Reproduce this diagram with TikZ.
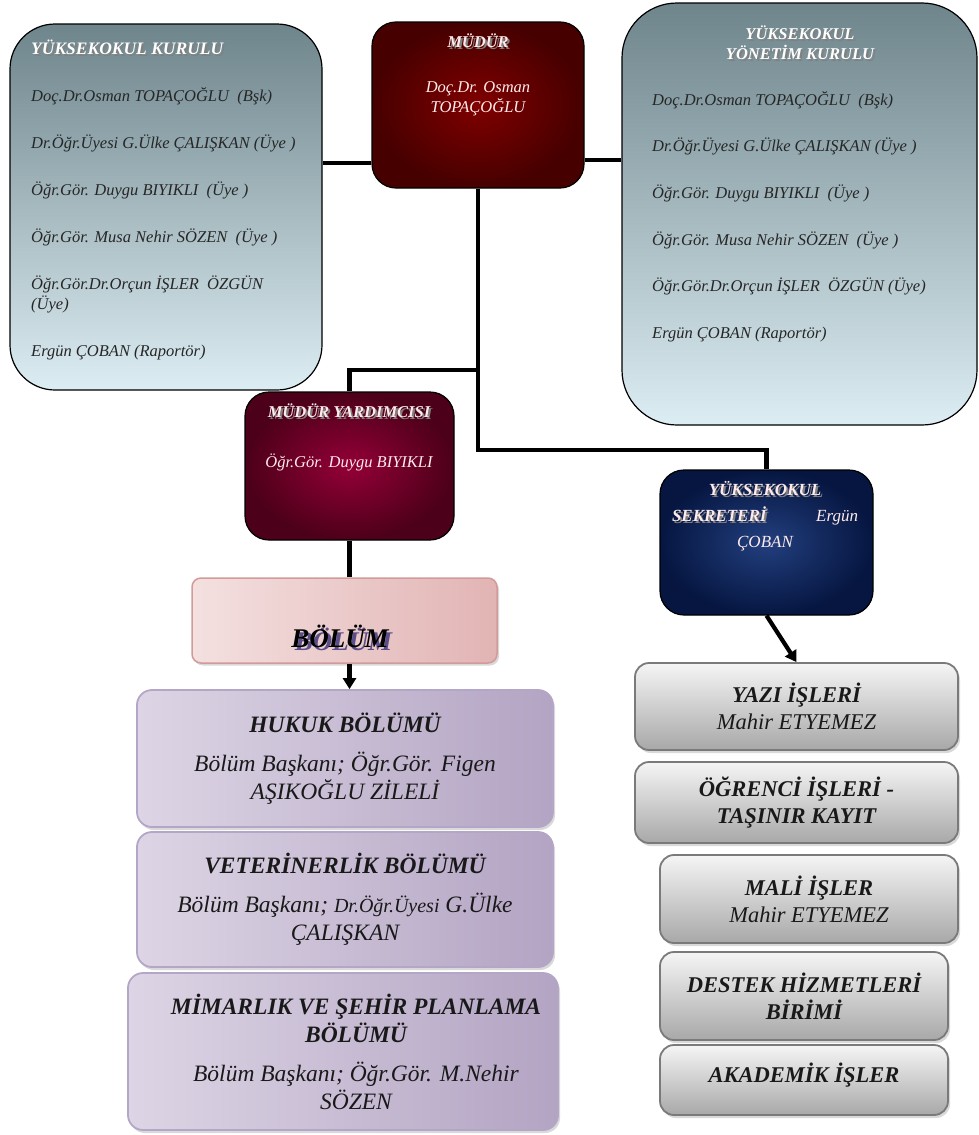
\documentclass[tikz,border=0pt]{standalone}
\usepackage{fontspec}
\setmainfont{Liberation Serif}
\usetikzlibrary{shadows,arrows.meta}

\definecolor{kurtop}{HTML}{6E858B}
\definecolor{kurbot}{HTML}{DCEDF3}
\definecolor{mudin}{HTML}{800000}
\definecolor{mudout}{HTML}{460000}
\definecolor{yrdin}{HTML}{940037}
\definecolor{yrdout}{HTML}{4C0019}
\definecolor{sekin}{HTML}{223F7E}
\definecolor{sekout}{HTML}{061641}
\definecolor{pinkA}{HTML}{F4E0E0}
\definecolor{pinkB}{HTML}{E2B4B4}
\definecolor{pinkline}{HTML}{D39A9A}
\definecolor{lavA}{HTML}{DDD5E5}
\definecolor{lavB}{HTML}{EEEAF3}
\definecolor{lavC}{HTML}{B3A4C3}
\definecolor{lavline}{HTML}{B3A6C7}
\definecolor{grayA}{HTML}{F5F5F5}
\definecolor{grayB}{HTML}{A8A8A8}
\definecolor{grayline}{HTML}{7A7A7A}
\definecolor{titleshade}{HTML}{5B4F8A}

% golgeli baslik yazisi
\newcommand{\shtext}[3][2pt]{\makebox[0pt][l]{\hspace{#1}\raisebox{-#1}{\textcolor{#2}{#3}}}#3}

\begin{document}
\begin{tikzpicture}[x=1pt,y=-1pt,
	conn/.style={line width=4.5pt},
	arrowconn/.style={line width=4.2pt,-{Triangle[length=11pt,width=13pt]}},
	kurulbox/.style={draw=black,line width=1.2pt,top color=kurtop,bottom color=kurbot,inner sep=0pt},
	darkbox/.style={draw=black,line width=1.2pt,rounded corners=24pt,inner sep=0pt},
	pinkbox/.style={draw=pinkline,line width=1.5pt,rounded corners=9pt,left color=pinkA,right color=pinkB,
		drop shadow={shadow xshift=2pt,shadow yshift=-2.5pt,opacity=0.3}},
	deptbox/.style={draw=lavline,line width=1.8pt,rounded corners=15pt,left color=lavA,middle color=lavB,right color=lavC,
		drop shadow={shadow xshift=2pt,shadow yshift=-3pt,opacity=0.3},
		font=\fontsize{23.5}{28}\selectfont\itshape,text=black!90,align=center},
	graybox/.style={draw=grayline,line width=1.8pt,rounded corners=14pt,top color=grayA,bottom color=grayB,
		drop shadow={shadow xshift=2pt,shadow yshift=-3pt,opacity=0.3},
		font=\fontsize{22.5}{27}\selectfont\itshape,text=black!90,align=center},
	membertext/.style={font=\fontsize{16.5}{20}\selectfont\itshape,text=black!85,align=left,inner sep=0pt},
	whitetext/.style={font=\fontsize{16.5}{20}\selectfont\itshape,text=white!92!red,align=center,inner sep=0pt}]
	\useasboundingbox (0,0) rectangle (978,1135);

	% ust kutular
	\node[kurulbox,rounded corners=45pt,minimum width=312pt,minimum height=366pt] (kurulu) at (166,207) {};
	\node[darkbox,inner color=mudin,outer color=mudout,minimum width=212pt,minimum height=166pt] (mudur) at (478,105) {};
	\node[kurulbox,rounded corners=55pt,minimum width=355pt,minimum height=422pt] (yonetim) at (799.5,214) {};

	\node[membertext,anchor=west] (kuruluyazi) at (31,200) {%
		{\fontsize{17.5}{20}\selectfont\bfseries\textcolor{white}{\shtext{gray}{YÜKSEKOKUL KURULU}}}\\[27pt]
		Doç.Dr.Osman TOPAÇOĞLU~ (Bşk)\\[27pt]
		Dr.Öğr.Üyesi G.Ülke ÇALIŞKAN (Üye~)\\[27pt]
		Öğr.Gör. Duygu BIYIKLI~ (Üye~)\\[27pt]
		Öğr.Gör. Musa Nehir SÖZEN~ (Üye~)\\[27pt]
		Öğr.Gör.Dr.Orçun İŞLER~ ÖZGÜN\\(Üye)\\[27pt]
		Ergün ÇOBAN (Raportör)};
	\node[whitetext] (mudurada) at (478,75) {%
		{\bfseries\shtext{gray}{MÜDÜR}}\\[25pt]
		Doç.Dr. Osman\\TOPAÇOĞLU};
	\node[whitetext,text=white] (yonetimbaslik) at (800,44) {%
		\bfseries\shtext{gray}{YÜKSEKOKUL}\\\bfseries\shtext{gray}{YÖNETİM KURULU}};
	\node[membertext,anchor=west] (yonetimyazi) at (652,216.5) {%
		Doç.Dr.Osman TOPAÇOĞLU~ (Bşk)\\[26.6pt]
		Dr.Öğr.Üyesi G.Ülke ÇALIŞKAN (Üye~)\\[26.6pt]
		Öğr.Gör. Duygu BIYIKLI~ (Üye~)\\[26.6pt]
		Öğr.Gör. Musa Nehir SÖZEN~ (Üye~)\\[26.6pt]
		Öğr.Gör.Dr.Orçun İŞLER~ ÖZGÜN (Üye)\\[26.6pt]
		Ergün ÇOBAN (Raportör)};

	% orta kutular
	\node[darkbox,inner color=yrdin,outer color=yrdout,minimum width=209pt,minimum height=148pt] (yardimci) at (349.5,466) {};
	\node[whitetext] (yardimciada) at (349,437) {%
		{\bfseries\shtext{gray}{MÜDÜR YARDIMCISI}}\\[30pt]
		Öğr.Gör. Duygu BIYIKLI};
	\node[darkbox,inner color=sekin,outer color=sekout,minimum width=213pt,minimum height=145pt] (sekreter) at (766.5,542.5) {};
	\node[whitetext,font=\fontsize{17}{26}\selectfont\itshape] (sekreterada) at (765,516) {%
		{\bfseries\shtext{gray}{YÜKSEKOKUL}}\\
		\makebox[186pt]{{\bfseries\shtext{gray}{SEKRETERİ}}\hfill Ergün}\\
		ÇOBAN};
	\node[pinkbox,minimum width=305pt,minimum height=85pt] (bolum) at (344.5,620.5) {};
	\node[font=\fontsize{27}{30}\selectfont\bfseries\itshape,inner sep=0pt] (bolumada) at (340,638) {\shtext[3.5pt]{titleshade}{BÖLÜM}};

	% bolumler
	\node[deptbox,minimum width=416pt,minimum height=137pt] (hukuk) at (345,758.5) {%
		\textbf{HUKUK BÖLÜMÜ}\\[11pt]
		Bölüm Başkanı; Öğr.Gör. Figen\\AŞIKOĞLU ZİLELİ};
	\node[deptbox,minimum width=416pt,minimum height=135pt] (veteriner) at (345,899.5) {%
		\textbf{VETERİNERLİK BÖLÜMÜ}\\[11pt]
		Bölüm Başkanı; {\fontsize{20}{28}\selectfont Dr.Öğr.Üyesi} G.Ülke\\ÇALIŞKAN};
	\node[deptbox,minimum width=430pt,minimum height=157pt] (mimarlik) at (343,1051.5) {%
		\hspace*{26pt}\textbf{MİMARLIK VE ŞEHİR PLANLAMA}\\\hspace*{26pt}\textbf{BÖLÜMÜ}\\[11pt]
		\hspace*{26pt}Bölüm Başkanı; Öğr.Gör. M.Nehir\\\hspace*{26pt}SÖZEN};

	% birimler
	\node[graybox,minimum width=323pt,minimum height=87pt] (yazi) at (796.5,706.5) {\textbf{YAZI İŞLERİ}\\Mahir ETYEMEZ};
	\node[graybox,minimum width=323pt,minimum height=81pt] (ogrenci) at (796.5,802.5) {\textbf{ÖĞRENCİ İŞLERİ -}\\\textbf{TAŞINIR KAYIT}};
	\node[graybox,minimum width=298pt,minimum height=88pt] (mali) at (809,899) {\textbf{MALİ İŞLER}\\Mahir ETYEMEZ};
	\node[graybox,minimum width=288pt,minimum height=88pt] (destek) at (804,996) {\textbf{DESTEK HİZMETLERİ}\\\textbf{BİRİMİ}};
	\node[graybox,minimum width=288pt,minimum height=70pt,text depth=14pt] (akademik) at (804,1080) {\textbf{AKADEMİK İŞLER}};

	% baglantilar
	\draw[conn] (kurulu.east |- 0,163) -- (mudur.west |- 0,163);
	\draw[conn] (mudur.east |- 0,160) -- (yonetim.west |- 0,160);
	\coordinate (ayrim) at (mudur.south |- 0,370);
	\draw[conn] (mudur.south) -- (mudur.south |- 0,450) -| (sekreter.north);
	\draw[conn] (ayrim) -| (yardimci.north);
	\draw[conn] (yardimci.south) -- (yardimci.south |- bolum.north);
	\draw[arrowconn] (yardimci.south |- bolum.south) -- (yardimci.south |- hukuk.north);
	\draw[arrowconn] (sekreter.south) -- (yazi.north);
\end{tikzpicture}
\end{document}
